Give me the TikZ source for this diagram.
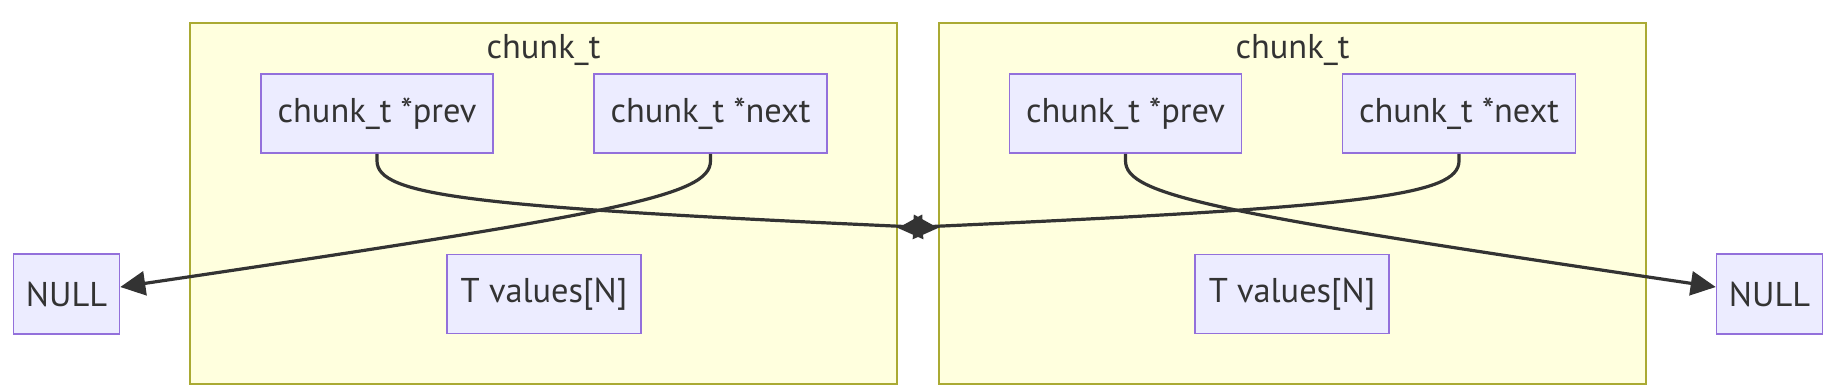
\documentclass[tikz,border=0pt]{standalone}
\usepackage{fontspec}
\setmainfont{PT Sans}
\usetikzlibrary{arrows.meta}
\definecolor{nodefill}{HTML}{ECECFF}
\definecolor{nodedraw}{HTML}{9370DB}
\definecolor{clfill}{HTML}{FFFFDE}
\definecolor{cldraw}{HTML}{AAAA33}
\definecolor{ink}{HTML}{333333}
\tikzset{
  box/.style={draw=nodedraw, fill=nodefill, line width=0.8pt, text=ink,
    font=\fontsize{17.2}{20}\selectfont, minimum height=39.5pt, inner sep=0pt},
  cluster/.style={draw=cldraw, fill=clfill, line width=0.8pt,
    minimum width=353.5pt, minimum height=180.5pt, inner sep=0pt},
  cltitle/.style={text=ink, font=\fontsize{17.2}{20}\selectfont},
  link/.style={draw=ink, line width=1.6pt, -{Triangle[length=12.5pt,width=12pt]}},
}
\begin{document}
\begin{tikzpicture}[x=0.5pt,y=-0.5pt]
\useasboundingbox (0,0) rectangle (1834,388);
% clusters
\node[cluster] (cl) at (543.5,203.5) {};
\node[cluster] (cr) at (1292.5,203.5) {};
\node[cltitle] (tl) at (543.5,50) {chunk\_t};
\node[cltitle] (tr) at (1292.5,50) {chunk\_t};
% nodes
\node[box, minimum width=116pt] (lp) at (377,113.5) {chunk\_t *prev};
\node[box, minimum width=116.5pt] (ln) at (710.5,113.5) {chunk\_t *next};
\node[box, minimum width=97pt] (lt) at (544,294) {T values[N]};
\node[box, minimum width=53pt, minimum height=40pt] (nl) at (66.5,294) {NULL};
\node[box, minimum width=116pt] (rp) at (1125.5,113.5) {chunk\_t *prev};
\node[box, minimum width=116.5pt] (rn) at (1459,113.5) {chunk\_t *next};
\node[box, minimum width=97pt] (rt) at (1292,294) {T values[N]};
\node[box, minimum width=53pt, minimum height=40pt] (nr) at (1769.5,294) {NULL};
% endpoints at cluster edges
\coordinate (mr) at (cr.west |- 0,228);
\coordinate (ml) at (cl.east |- 0,228);
% connectors
\draw[link] (lp.south) -- ++(0,7) .. controls +(0,35) and (470,207) .. (mr);
\draw[link] (ln.south) -- ++(0,7) .. controls +(0,35) and (620,213) .. ([yshift=3.5pt]nl.east);
\draw[link] (rp.south) -- ++(0,7) .. controls +(0,35) and (1216,213) .. ([yshift=3.5pt]nr.west);
\draw[link] (rn.south) -- ++(0,7) .. controls +(0,35) and (1366,207) .. (ml);
\end{tikzpicture}
\end{document}
